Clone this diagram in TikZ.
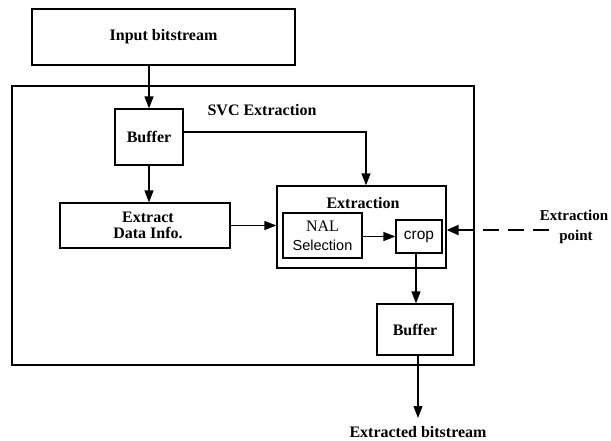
\documentclass[tikz,border=0pt]{standalone}
\usepackage{fontspec}
\setmainfont{Liberation Serif}
\newfontfamily\sansf{Liberation Sans}
\usetikzlibrary{arrows.meta}
\begin{document}
\begin{tikzpicture}[x=1pt,y=-1pt,
  box/.style={draw, line width=1.2pt, inner sep=0pt, align=center, font=\fontsize{16}{16}\selectfont\bfseries},
  lbl/.style={inner sep=0pt, align=center, font=\fontsize{16}{20}\selectfont\bfseries},
  arr/.style={line width=1.2pt, -{Triangle[length=12pt,width=9pt]}},
  darr/.style={line width=2.2pt, dash pattern=on 16pt off 9pt, -{Triangle[length=12pt,width=10pt]}}]
\useasboundingbox (0,0) rectangle (611,440);
\node[box, minimum width=263pt, minimum height=56pt] (inp) at (163.5,37) {Input bitstream};
\node[draw, line width=1.2pt, minimum width=462pt, minimum height=279pt, inner sep=0pt] (svc) at (243,225.5) {};
\node[lbl] (svclbl) at (262,110) {SVC Extraction};
\node[box, minimum width=68pt, minimum height=56pt] (buf1) at (149,137) {Buffer};
\node[box, minimum width=170pt, minimum height=45pt] (ext) at (145,225.5) {\hspace*{6pt}Extract\\ \hspace*{6pt}Data Info.};
\node[draw, line width=1.2pt, minimum width=169pt, minimum height=82pt, inner sep=0pt] (exbox) at (361.5,227) {};
\node[lbl] (exlbl) at (363,203) {Extraction};
\node[draw, line width=1.2pt, inner sep=0pt, align=center, minimum width=79pt, minimum height=45pt, font=\fontsize{16}{19}\selectfont] (nal) at (322.5,235.5) {NAL\\ {\sansf\fontsize{14.5}{16}\selectfont Selection}};
\node[draw, line width=1.2pt, inner sep=0pt, minimum width=46pt, minimum height=33pt, font=\sansf\fontsize{15.5}{16}\selectfont] (crop) at (419,236.5) {crop};
\node[box, minimum width=76pt, minimum height=51pt] (buf2) at (415,329.5) {Buffer};
\node[lbl, font=\fontsize{15}{20}\selectfont\bfseries] (eplbl) at (574,227) {Extraction\\\hspace*{4pt}point};
\coordinate (ep) at (549,230);
\coordinate (outc) at (418,418);
\node[lbl, font=\fontsize{16}{16}\selectfont\bfseries] (outlbl) at (418,432) {Extracted bitstream};
\draw[arr] (inp.south -| buf1.north) -- (buf1.north);
\draw[arr] (buf1.south) -- (buf1.south |- ext.north);
\draw[arr] ([yshift=5pt]buf1.east) -| ([xshift=4.5pt]exbox.north);
\draw[arr] (ext.east) -- (ext.east -| exbox.west);
\draw[arr] (nal.east |- crop.west) -- (crop.west);
\draw[darr] (ep) -- (ep -| exbox.east);
\draw[arr] ([xshift=-3pt]crop.south) -- ([xshift=-3pt]crop.south |- buf2.north);
\draw[arr] (buf2.south -| outc) -- (outc);
\end{tikzpicture}
\end{document}
